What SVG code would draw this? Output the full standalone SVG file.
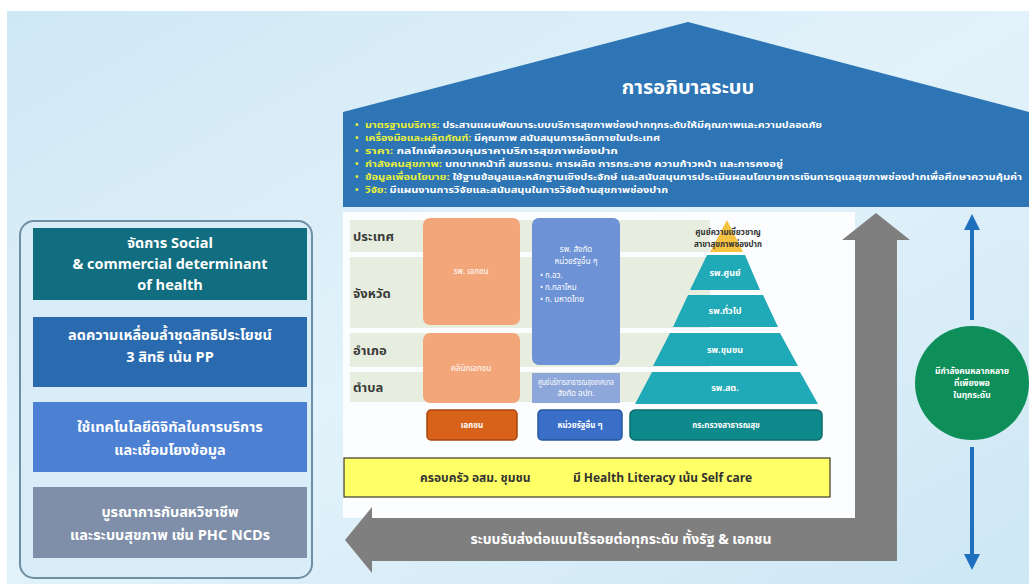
<svg xmlns="http://www.w3.org/2000/svg" width="1029" height="584" viewBox="0 0 1029 584">
<defs>
<linearGradient id="bg" x1="0" y1="0" x2="1" y2="1">
<stop offset="0" stop-color="#cfe8f5"/>
<stop offset="0.5" stop-color="#e2f2fa"/>
<stop offset="1" stop-color="#cde7f4"/>
</linearGradient>
<marker id="ah" viewBox="0 0 10 10" refX="5" refY="5" markerWidth="4" markerHeight="4" orient="auto-start-reverse">
<path d="M0,0 L10,5 L0,10 z" fill="#1f6fbf"/>
</marker>
<style>
text{font-family:"Noto Sans Thai","Noto Sans","DejaVu Sans",sans-serif}
.lb{fill:#fff;font-weight:bold;font-size:14.5px;text-anchor:middle}
.bl{font-size:9px;font-weight:bold}
.y{fill:#e8f03a}
.w{fill:#fff}
.row{fill:#3a3a3a;font-size:13px;font-weight:bold}
.sm{fill:#fff;font-size:8px;text-anchor:middle}
.tier{fill:#20a9b6}
.pt{fill:#fff;font-size:9px;font-weight:bold;text-anchor:middle}
</style>
</defs>
<rect width="1029" height="584" fill="#fff"/>
<rect x="7" y="11" width="1022" height="573" fill="url(#bg)"/>

<g id="governance">
<polygon points="343,112 688,22 1029,112 1029,207 343,207" fill="#2e75b6"/>
<text x="688" y="94" text-anchor="middle" fill="#fff" font-size="20" font-weight="bold">การอภิบาลระบบ</text>
<g class="bl">
<text x="355" y="128" class="y">•</text><text x="365" y="128" textLength="457" lengthAdjust="spacingAndGlyphs"><tspan class="y">มาตรฐานบริการ:</tspan><tspan class="w"> ประสานแผนพัฒนาระบบบริการสุขภาพช่องปากทุกระดับให้มีคุณภาพและความปลอดภัย</tspan></text>
<text x="355" y="141" class="y">•</text><text x="365" y="141" textLength="295" lengthAdjust="spacingAndGlyphs"><tspan class="y">เครื่องมือและผลิตภัณฑ์:</tspan><tspan class="w"> มีคุณภาพ สนับสนุนการผลิตภายในประเทศ</tspan></text>
<text x="355" y="154" class="y">•</text><text x="365" y="154" textLength="253" lengthAdjust="spacingAndGlyphs"><tspan class="y">ราคา:</tspan><tspan class="w"> กลไกเพื่อควบคุมราคาบริการสุขภาพช่องปาก</tspan></text>
<text x="355" y="167" class="y">•</text><text x="365" y="167" textLength="418" lengthAdjust="spacingAndGlyphs"><tspan class="y">กำลังคนสุขภาพ:</tspan><tspan class="w"> บทบาทหน้าที่ สมรรถนะ การผลิต การกระจาย ความก้าวหน้า และการคงอยู่</tspan></text>
<text x="355" y="180" class="y">•</text><text x="365" y="180" textLength="657" lengthAdjust="spacingAndGlyphs"><tspan class="y">ข้อมูลเพื่อนโยบาย:</tspan><tspan class="w"> ใช้ฐานข้อมูลและหลักฐานเชิงประจักษ์ และสนับสนุนการประเมินผลนโยบายการเงินการดูแลสุขภาพช่องปากเพื่อศึกษาความคุ้มค่า</tspan></text>
<text x="355" y="193" class="y">•</text><text x="365" y="193" textLength="303" lengthAdjust="spacingAndGlyphs"><tspan class="y">วิจัย:</tspan><tspan class="w"> มีแผนงานการวิจัยและสนับสนุนในการวิจัยด้านสุขภาพช่องปาก</tspan></text>
</g>
</g>

<g id="left-panel">
<rect x="20" y="221" width="292" height="357" rx="14" fill="#d8edf7" stroke="#6d8ea3" stroke-width="2"/>
<rect x="33" y="228" width="274" height="72" fill="#116e80"/>
<text class="lb"><tspan x="170" y="248">จัดการ Social</tspan><tspan x="170" y="269">&amp; commercial determinant</tspan><tspan x="170" y="290">of health</tspan></text>
<rect x="33" y="317" width="274" height="70" fill="#2a6bb0"/>
<text class="lb"><tspan x="170" y="340">ลดความเหลื่อมล้ำชุดสิทธิประโยชน์</tspan><tspan x="170" y="362">3 สิทธิ เน้น PP</tspan></text>
<rect x="33" y="402" width="274" height="70" fill="#4c80d2"/>
<text class="lb"><tspan x="170" y="432">ใช้เทคโนโลยีดิจิทัลในการบริการ</tspan><tspan x="170" y="455">และเชื่อมโยงข้อมูล</tspan></text>
<rect x="33" y="487" width="274" height="71" fill="#7f8fa9"/>
<text class="lb"><tspan x="170" y="517">บูรณาการกับสหวิชาชีพ</tspan><tspan x="170" y="540">และระบบสุขภาพ เช่น PHC NCDs</tspan></text>
</g>

<g id="service-table">
<rect x="343" y="212" width="512" height="306" fill="#fbfdfe"/>
<rect x="350" y="220" width="360" height="32" fill="#e8eedf"/>
<rect x="350" y="257" width="360" height="71" fill="#e8eedf"/>
<rect x="350" y="333" width="360" height="34" fill="#e8eedf"/>
<rect x="350" y="372" width="360" height="30" fill="#e8eedf"/>
<text class="row" x="353" y="241">ประเทศ</text>
<text class="row" x="353" y="298">จังหวัด</text>
<text class="row" x="353" y="355">อำเภอ</text>
<text class="row" x="353" y="392">ตำบล</text>
</g>

<g id="private">
<rect x="423" y="218" width="97" height="107" rx="7" fill="#f4a67b"/>
<text class="sm" x="471" y="274">รพ. เอกชน</text>
<rect x="423" y="333" width="97" height="70" rx="7" fill="#f4a67b"/>
<text class="sm" x="471" y="371">คลินิกเอกชน</text>
<rect x="427" y="410" width="90" height="30" rx="4" fill="#d9621a" stroke="#a8460f" stroke-width="1.5"/>
<text class="sm" x="472" y="428" font-weight="bold">เอกชน</text>
</g>

<g id="other-public">
<rect x="532" y="218" width="88" height="147" rx="7" fill="#6d92d6"/>
<text class="sm" x="576" y="252">รพ. สังกัด</text>
<text class="sm" x="576" y="264">หน่วยรัฐอื่น ๆ</text>
<text x="540" y="278" fill="#fff" font-size="8">•  ก.อว.</text>
<text x="540" y="290" fill="#fff" font-size="8">•  ก.กลาโหม</text>
<text x="540" y="302" fill="#fff" font-size="8">•  ก. มหาดไทย</text>
<rect x="532" y="373" width="88" height="30" fill="#8ea7da"/>
<text class="sm" x="576" y="385" font-size="5" textLength="76" lengthAdjust="spacingAndGlyphs">ศูนย์บริการสาธารณสุขเทศบาล</text>
<text class="sm" x="576" y="396" font-size="5">สังกัด อปท.</text>
<rect x="538" y="410" width="84" height="30" rx="4" fill="#3a6fc8" stroke="#2a55a0" stroke-width="1.5"/>
<text class="sm" x="580" y="428" font-weight="bold">หน่วยรัฐอื่น ๆ</text>
</g>

<g id="moph-pyramid">
<polygon points="727,220 743,252 710,252" fill="#f5c242"/>
<text x="728" y="235" text-anchor="middle" fill="#333" font-size="8" font-weight="bold">ศูนย์ความเชี่ยวชาญ</text>
<text x="728" y="247" text-anchor="middle" fill="#333" font-size="8" font-weight="bold">สาขาสุขภาพช่องปาก</text>
<polygon class="tier" points="707,255 745,255 760,290 690,290"/>
<text class="pt" x="725" y="276">รพ.ศูนย์</text>
<polygon class="tier" points="688,295 763,295 778,327 673,327"/>
<text class="pt" x="725" y="314">รพ.ทั่วไป</text>
<polygon class="tier" points="670,333 780,333 798,366 653,366"/>
<text class="pt" x="725" y="353">รพ.ชุมชน</text>
<polygon class="tier" points="652,372 800,372 818,404 635,404"/>
<text class="pt" x="725" y="391">รพ.สต.</text>
<rect x="630" y="410" width="192" height="30" rx="5" fill="#0f8a8c" stroke="#0b6b6d" stroke-width="1.5"/>
<text class="sm" x="726" y="428" font-weight="bold">กระทรวงสาธารณสุข</text>
</g>

<g id="community">
<rect x="344" y="458" width="486" height="39" fill="#ffff66" stroke="#3a3a2a" stroke-width="1.2"/>
<text x="420" y="482" fill="#333" font-size="12" font-weight="bold">ครอบครัว อสม. ชุมชน</text>
<text x="752" y="482" text-anchor="end" fill="#333" font-size="12" font-weight="bold">มี Health Literacy เน้น Self care</text>
</g>

<g id="connectors">
<polygon points="345,540 372,507 372,518 855,518 855,240 842,240 876,213 910,240 897,240 897,561 372,561 372,573" fill="#7f7f7f"/>
<text x="621" y="544" text-anchor="middle" fill="#fff" font-size="14" font-weight="bold">ระบบรับส่งต่อแบบไร้รอยต่อทุกระดับ ทั้งรัฐ &amp; เอกชน</text>
<line x1="972" y1="320" x2="972" y2="222" stroke="#1f6fbf" stroke-width="4" marker-end="url(#ah)"/>
<line x1="972" y1="447" x2="972" y2="562" stroke="#1f6fbf" stroke-width="4" marker-end="url(#ah)"/>
</g>

<g id="workforce">
<circle cx="972" cy="383" r="57" fill="#0e8f5a"/>
<text x="972" y="374" text-anchor="middle" fill="#fff" font-size="8.5" font-weight="bold">มีกำลังคนหลากหลาย</text>
<text x="972" y="386" text-anchor="middle" fill="#fff" font-size="8.5" font-weight="bold">ที่เพียงพอ</text>
<text x="972" y="398" text-anchor="middle" fill="#fff" font-size="8.5" font-weight="bold">ในทุกระดับ</text>
</g>
</svg>
